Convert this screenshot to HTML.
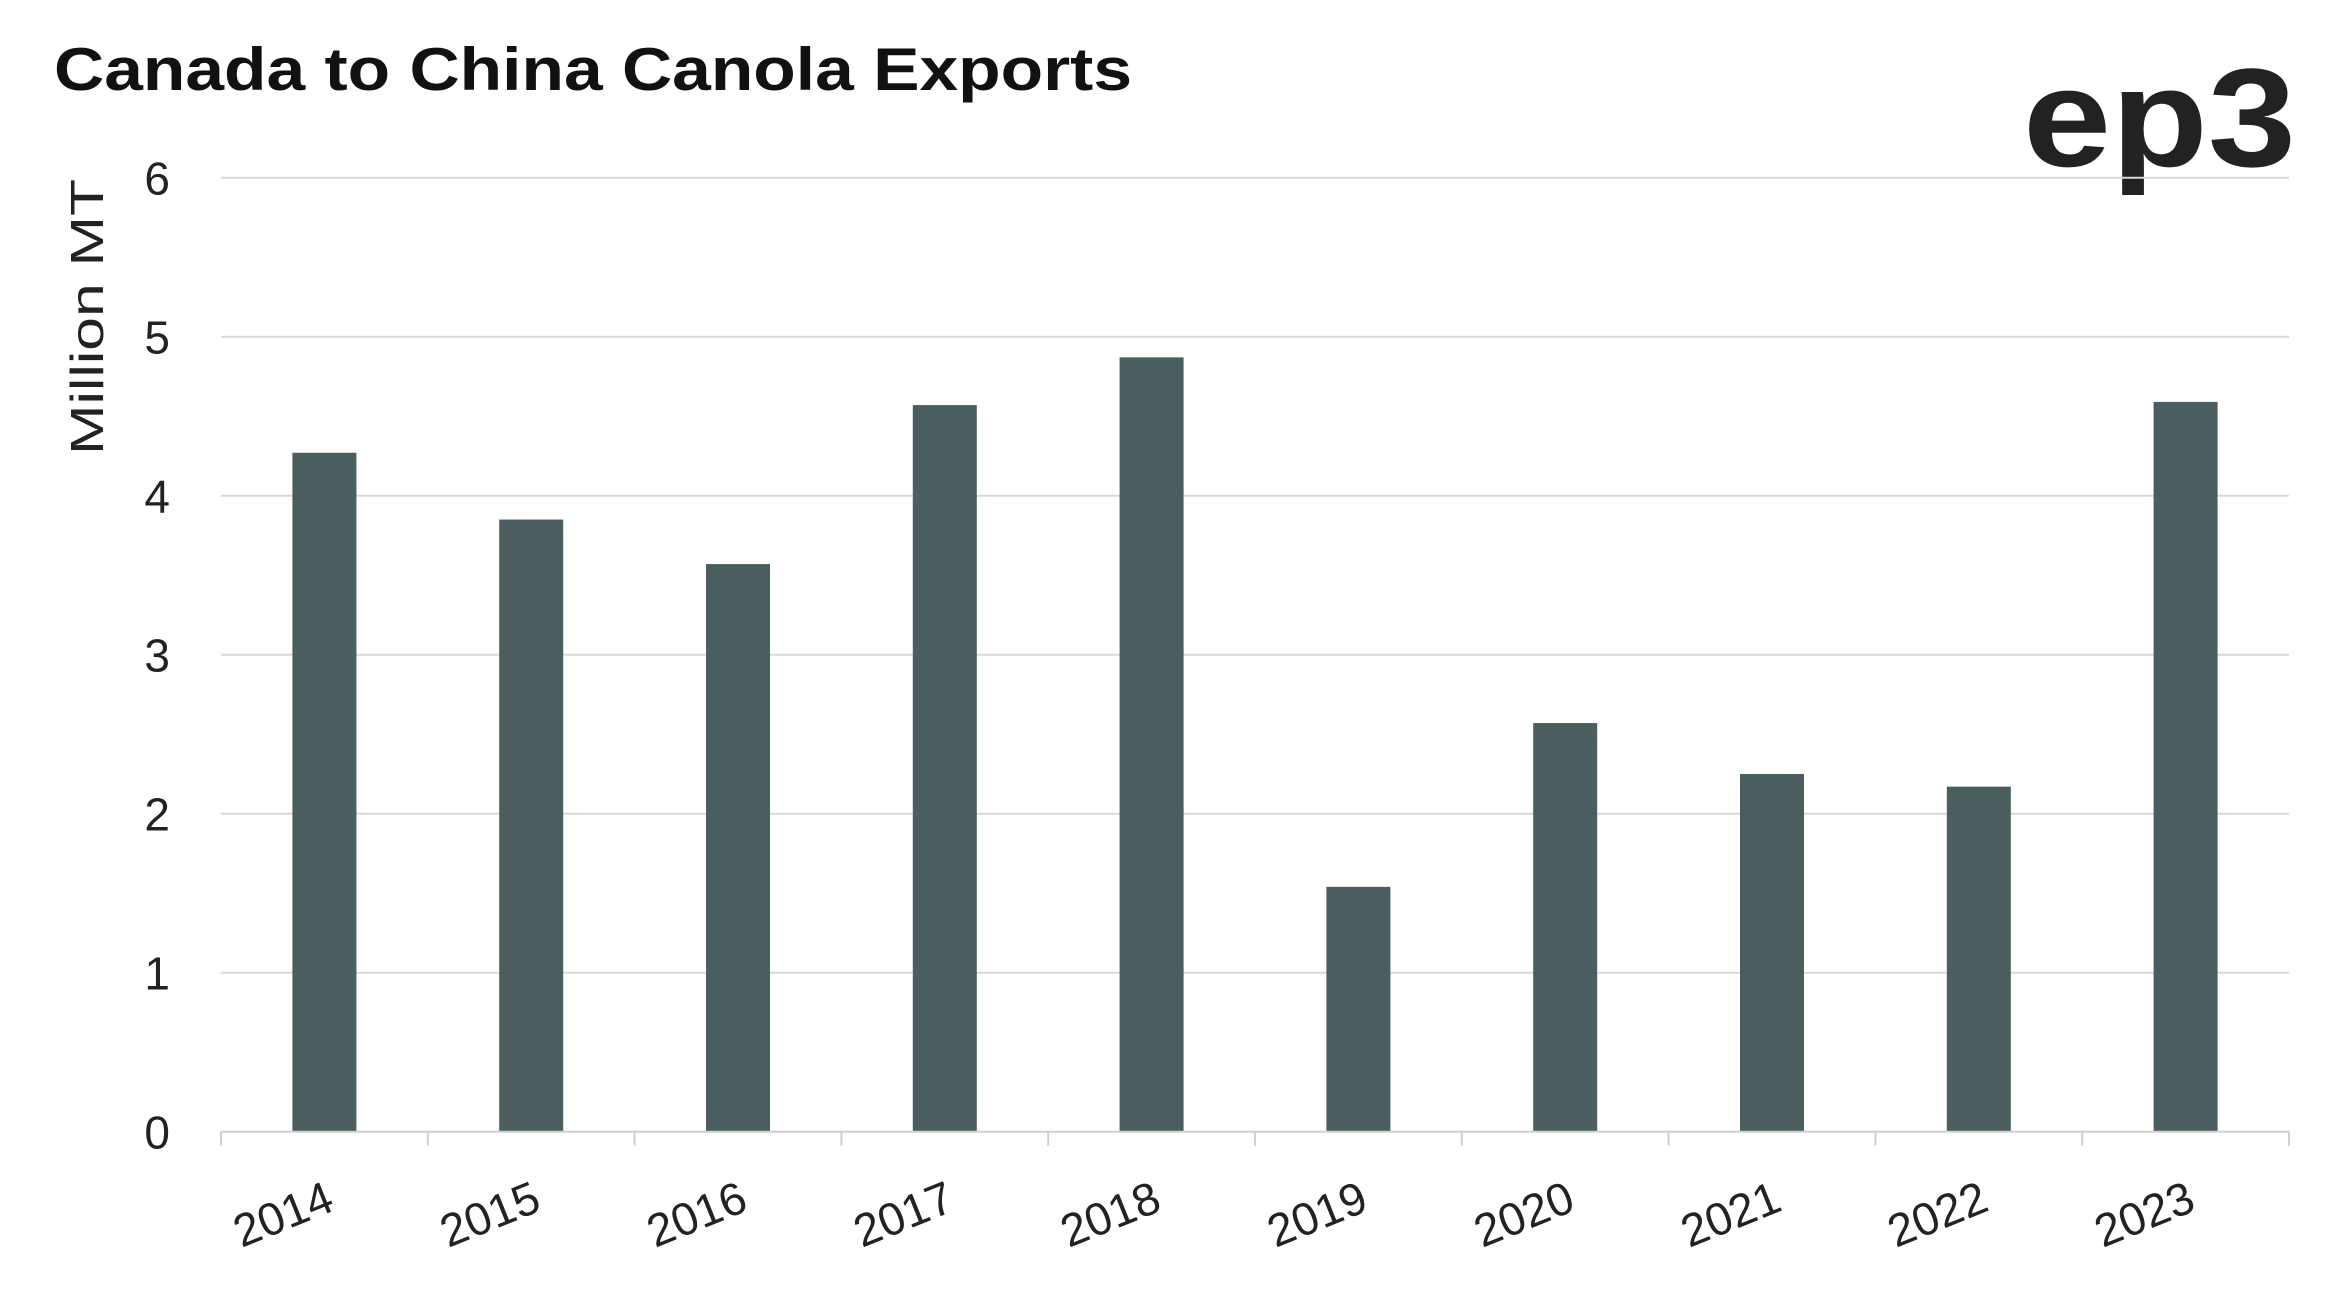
<!DOCTYPE html>
<html><head><meta charset="utf-8"><style>
html,body{margin:0;padding:0;background:#fff;}
svg{display:block;font-family:"Liberation Sans",sans-serif;}
</style></head><body>
<svg id="chart" width="2341" height="1302">
<text x="54" y="90" font-size="60" font-weight="bold" fill="#111" textLength="1078" lengthAdjust="spacingAndGlyphs">Canada to China Canola Exports</text>
<text x="2023" y="166" font-size="140" font-weight="bold" fill="#222" textLength="273" lengthAdjust="spacingAndGlyphs">ep3</text>
<text transform="translate(103,317) rotate(-90)" font-size="46" fill="#222" text-anchor="middle" textLength="276" lengthAdjust="spacingAndGlyphs">Million MT</text>
<g id="grid"></g><g id="bars"></g><g id="xaxis"></g>
</svg>
<script>
const categories=["2014","2015","2016","2017","2018","2019","2020","2021","2022","2023"];
const values=[4.27,3.85,3.57,4.57,4.87,1.54,2.57,2.25,2.17,4.59];
const yTicks=[0,1,2,3,4,5,6];
const NS="http://www.w3.org/2000/svg";
const L=221,R=2289,T=177.7,B=1131.7,yMax=6;
const y=v=>B-(v/yMax)*(B-T);
const band=(R-L)/categories.length;
const xc=i=>L+band*(i+0.5);
function mk(tag,attrs,parent){const e=document.createElementNS(NS,tag);for(const k in attrs)e.setAttribute(k,attrs[k]);parent.appendChild(e);return e;}
const grid=document.getElementById('grid'),bars=document.getElementById('bars'),xa=document.getElementById('xaxis');
yTicks.forEach(t=>{
 if(t>0){const g=mk('line',{x1:L,x2:R,y1:y(t),y2:y(t),stroke:'#d9d9d9','stroke-width':2},grid);
 
 }
 const tx=mk('text',{x:170,y:y(t)+17,'font-size':46,fill:'#222','text-anchor':'end'},grid);
 tx.textContent=t;
 
 
});
const ax=mk('line',{x1:L,x2:R,y1:B,y2:B,stroke:'#d0d0d0','stroke-width':2},xa);


for(let i=0;i<=categories.length;i++){const x=L+band*i;const tk=mk('line',{x1:x,x2:x,y1:B,y2:B+14,stroke:'#d0d0d0','stroke-width':2},xa);
 
 }
categories.forEach((c,i)=>{
 const bw=64;
 const r=mk('rect',{x:xc(i)-bw/2,y:y(values[i]),width:bw,height:B-y(values[i]),fill:'#4a5d5f'},bars);
 
 
 const t=mk('text',{transform:`translate(${xc(i)+12},${B+78}) rotate(-22)`,'font-size':46,fill:'#222','text-anchor':'end'},xa);
 t.textContent=c;
 
 
});
</script>
</body></html>
